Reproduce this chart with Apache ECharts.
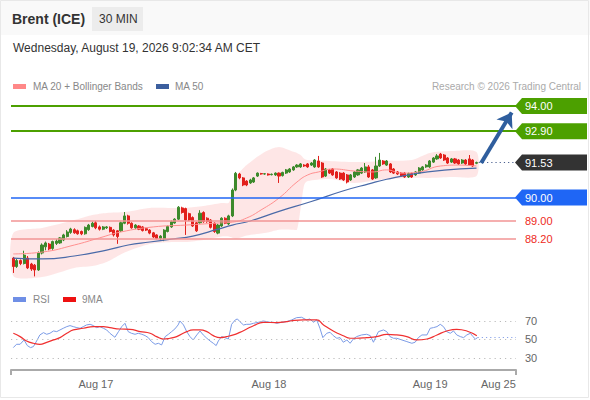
<!DOCTYPE html>
<html lang="en">
<head>
    <meta charset="UTF-8"/>
    <title>Brent (ICE)</title>
    <script src="https://cdn.jsdelivr.net/npm/echarts@6/dist/echarts.min.js"></script>
    <style>
        html, body { margin: 0; padding: 0; background: #fff; }
        #main { width: 590px; height: 400px; }
    </style>
</head>
<body>
<div id="main"></div>
<script type="text/javascript">
    // 30 min candles, one per slot
    var opens = [87.36, 86.99, 87.25, 87.12, 87.36, 87.10, 87.05, 86.84, 87.58, 87.85,
        87.97, 87.78, 88.00, 88.02, 88.15, 88.30, 88.48, 88.60, 88.55, 88.52,
        88.42, 88.60, 88.74, 88.90, 88.72, 88.62, 88.68, 88.70, 88.58, 88.55,
        88.55, 88.88, 89.20, 88.88, 88.68, 88.76, 88.72, 88.64, 88.58, 88.46,
        88.37, 88.22, 88.20, 88.52, 88.72, 88.89, 89.06, 89.55, 89.52, 89.30,
        89.13, 88.90, 88.90, 89.35, 89.10, 89.02, 88.88, 88.45, 88.76, 89.10,
        88.85, 89.20, 90.33, 91.03, 90.86, 90.72, 90.64, 90.68, 90.94, 91.05,
        91.03, 91.03, 91.00, 90.99, 91.07, 90.96, 91.07, 91.12, 91.21, 91.34,
        91.34, 91.42, 91.47, 91.42, 91.34, 91.60, 91.51, 90.94, 91.21, 91.25,
        91.12, 91.07, 91.07, 90.99, 90.77, 90.90, 90.99, 91.07, 91.12, 91.34,
        91.21, 90.86, 91.38, 91.60, 91.42, 91.47, 91.25, 91.12, 91.07, 91.07,
        90.90, 91.05, 90.99, 91.07, 91.21, 91.34, 91.34, 91.55, 91.69, 91.90,
        91.86, 91.73, 91.55, 91.69, 91.64, 91.51, 91.64, 91.69, 91.64, 91.50];
    var closes = [86.99, 87.25, 87.12, 87.49, 86.93, 86.88, 86.84, 87.58, 87.93, 88.02,
        87.76, 88.08, 88.10, 88.24, 88.37, 88.50, 88.63, 88.46, 88.42, 88.42,
        88.70, 88.80, 88.88, 88.68, 88.62, 88.72, 88.72, 88.52, 88.37, 88.30,
        88.90, 89.20, 88.88, 88.68, 88.80, 88.62, 88.56, 88.58, 88.45, 88.28,
        88.22, 88.32, 88.58, 88.74, 88.95, 89.06, 89.58, 89.35, 89.02, 89.02,
        88.76, 88.55, 89.32, 88.95, 88.95, 88.70, 88.52, 88.80, 89.10, 88.88,
        89.20, 90.33, 91.06, 90.86, 90.55, 90.55, 90.77, 90.86, 91.07, 91.03,
        91.04, 90.99, 91.02, 91.07, 90.94, 91.10, 91.21, 91.25, 91.34, 91.42,
        91.47, 91.38, 91.34, 91.51, 91.64, 91.34, 90.90, 91.25, 91.07, 90.99,
        90.86, 90.81, 90.77, 90.68, 90.99, 91.12, 91.21, 91.29, 91.34, 90.90,
        90.81, 91.38, 91.64, 91.47, 91.60, 91.12, 91.07, 91.03, 90.94, 90.90,
        91.05, 90.90, 91.12, 91.29, 91.34, 91.42, 91.60, 91.73, 91.82, 91.73,
        91.64, 91.51, 91.69, 91.51, 91.47, 91.64, 91.47, 91.42, 91.38, 91.53];
    var lows = [86.71, 86.93, 87.05, 87.08, 86.88, 86.80, 86.56, 86.80, 87.52, 87.70,
        87.70, 87.72, 87.93, 87.98, 88.10, 88.26, 88.42, 88.42, 88.38, 88.36,
        88.38, 88.55, 88.70, 88.62, 88.56, 88.58, 88.63, 88.48, 88.30, 87.98,
        88.50, 88.84, 88.82, 88.64, 88.62, 88.58, 88.52, 88.54, 88.40, 88.24,
        88.18, 88.15, 88.10, 88.48, 88.68, 88.86, 89.02, 89.30, 88.37, 88.98,
        88.72, 88.50, 88.86, 88.90, 88.90, 88.65, 88.46, 88.40, 88.72, 88.84,
        88.80, 89.15, 90.28, 90.80, 90.50, 90.50, 90.60, 90.64, 90.90, 91.00,
        91.00, 90.96, 90.97, 90.95, 90.64, 90.92, 91.03, 91.08, 91.17, 91.30,
        91.30, 91.34, 91.30, 91.38, 91.30, 91.30, 90.86, 90.90, 91.03, 90.95,
        90.82, 90.77, 90.73, 90.62, 90.73, 90.86, 90.95, 91.03, 91.08, 90.86,
        90.77, 90.82, 91.34, 91.43, 91.38, 91.08, 91.03, 90.99, 90.90, 90.86,
        90.86, 90.86, 90.95, 91.03, 91.17, 91.30, 91.30, 91.51, 91.65, 91.69,
        91.60, 91.47, 91.51, 91.47, 91.43, 91.47, 91.43, 91.38, 91.34, 91.46];
    var highs = [87.41, 87.32, 87.30, 87.68, 87.45, 87.15, 87.10, 87.65, 88.00, 88.08,
        88.02, 88.12, 88.18, 88.28, 88.42, 88.58, 88.68, 88.66, 88.60, 88.56,
        88.74, 88.85, 88.95, 88.98, 88.78, 88.76, 88.76, 88.74, 88.62, 88.58,
        88.95, 89.37, 89.25, 88.92, 88.84, 88.80, 88.76, 88.68, 88.62, 88.50,
        88.40, 88.36, 88.62, 88.78, 89.00, 89.10, 89.63, 89.60, 89.56, 89.34,
        89.18, 88.94, 89.45, 89.40, 89.14, 89.06, 88.92, 88.85, 89.14, 89.14,
        89.25, 90.40, 91.12, 91.08, 90.90, 90.76, 90.82, 90.90, 91.10, 91.08,
        91.07, 91.06, 91.05, 91.10, 91.10, 91.13, 91.25, 91.29, 91.38, 91.46,
        91.51, 91.46, 91.51, 91.55, 91.68, 91.82, 91.55, 91.29, 91.25, 91.29,
        91.16, 91.11, 91.11, 91.03, 91.03, 91.16, 91.25, 91.33, 91.51, 91.42,
        91.25, 91.78, 91.95, 91.64, 91.64, 91.51, 91.29, 91.16, 91.11, 91.11,
        91.09, 91.09, 91.16, 91.33, 91.38, 91.46, 91.64, 91.77, 91.90, 91.95,
        91.90, 91.77, 91.73, 91.73, 91.68, 91.68, 91.68, 91.86, 91.68, 91.57];

    // moving averages and bands, read at key candles
    var ma20Idx = [0, 8, 17, 24, 30, 39, 48, 57, 61, 65, 69, 74, 79, 82, 85, 89, 95, 100, 104, 108, 113, 119, 124, 129];
    var ma20Val = [87.54, 87.62, 87.93, 88.24, 88.50, 88.72, 88.80, 88.89, 88.93, 89.11, 89.46, 89.98, 90.68, 90.99,
        91.12, 91.25, 91.16, 91.12, 91.21, 91.07, 91.12, 91.38, 91.42, 91.38];
    var ma50Idx = [0, 8, 17, 26, 32, 38, 44, 50, 57, 61, 66, 74, 83, 92, 99, 104, 112, 120, 129];
    var ma50Val = [87.36, 87.32, 87.45, 87.71, 87.93, 88.06, 88.19, 88.32, 88.62, 88.80, 88.98, 89.40, 89.83,
        90.30, 90.60, 90.80, 91.05, 91.20, 91.29];
    var bandIdx = [0, 8, 17, 22, 26, 31, 38, 44, 48, 53, 58, 60, 61, 62, 65, 70, 74, 78, 79, 80, 81, 82, 88, 95, 104, 111, 116, 122, 129];
    var bandUp = [88.45, 88.67, 89.02, 89.24, 89.33, 89.37, 89.55, 89.55, 89.55, 89.63, 89.76, 89.78, 90.30, 90.90,
        91.42, 91.99, 92.21, 92.00, 91.95, 91.86, 91.70, 91.64, 91.60, 91.55, 91.60, 91.64, 91.95, 92.03, 91.99];
    var bandLow = [86.58, 86.53, 86.93, 87.01, 87.19, 87.60, 87.97, 88.06, 88.06, 88.15, 88.30, 88.30, 88.25, 88.20,
        88.35, 88.45, 88.60, 88.60, 88.60, 89.50, 90.55, 90.72, 90.81, 90.64, 90.81, 90.86, 90.86, 90.90, 90.94];

    // RSI panel
    var rsiIdx = [0, 0.9, 1.9, 3.0, 3.9, 4.8, 5.6, 6.5, 7.4, 8.4, 9.3, 10.2, 11.2, 12.1, 13.0, 13.9, 14.9, 15.8, 16.7, 17.7,
        18.6, 19.5, 20.4, 21.4, 22.3, 23.2, 24.1, 25.1, 26.0, 26.9, 28.3, 29.3, 30.2, 31.1, 32.0, 32.9, 33.9, 34.8, 35.8,
        36.7, 37.6, 38.5, 39.5, 40.4, 41.3, 42.3, 43.2, 44.1, 45.0, 45.9, 46.4, 47.4, 48.3, 49.2, 50.1, 51.1, 52.0, 52.9,
        53.9, 54.8, 55.7, 56.5, 57.1, 58.0, 58.9, 59.9, 60.8, 61.8, 62.4, 63.1, 64.1, 65.0, 65.9, 66.9, 68.3, 69.6, 70.6,
        71.5, 72.4, 73.4, 74.8, 76.1, 77.5, 78.9, 80.3, 81.7, 82.6, 83.6, 84.5, 85.4, 86.2, 87.3, 88.2, 89.1, 90.1, 91.0,
        91.9, 92.9, 93.8, 94.7, 95.6, 97.0, 98.4, 99.4, 100.3, 101.0, 101.7, 103.1, 104.0, 104.9, 105.9, 106.8, 108.2,
        109.6, 111.0, 111.9, 112.8, 113.8, 115.2, 116.1, 117.0, 118.0, 118.9, 119.8, 120.7, 121.7, 122.6, 123.5, 124.5,
        125.4, 126.3, 127.3, 128.0, 128.7, 129.3];
    var rsiVal = [41.2, 44.8, 44.8, 49.5, 43.4, 41.2, 42.3, 48.4, 54.9, 57.4, 55.6, 56.7, 59.2, 58.5, 60.3, 62.1, 63.9,
        65.0, 63.9, 62.8, 62.1, 63.9, 65.7, 66.4, 65.0, 62.8, 63.9, 62.1, 60.3, 56.7, 52.4, 58.5, 63.9, 67.5, 58.5, 56.7,
        55.6, 56.7, 55.6, 54.2, 52.0, 47.7, 44.8, 45.9, 44.1, 53.1, 55.6, 58.5, 61.4, 65.7, 70.0, 65.7, 58.5, 53.1, 49.5,
        54.9, 59.2, 54.9, 51.3, 48.4, 45.9, 43.4, 48.4, 53.1, 52.0, 50.5, 66.4, 71.1, 72.2, 69.3, 65.7, 66.4, 66.4, 67.5,
        68.6, 70.0, 69.3, 68.6, 68.6, 67.5, 68.6, 69.3, 71.1, 73.6, 74.0, 71.1, 72.2, 68.6, 71.1, 62.1, 52.0, 56.7, 57.8,
        54.2, 51.3, 52.0, 47.0, 49.5, 45.9, 50.5, 53.1, 54.9, 55.6, 54.2, 47.0, 53.1, 58.5, 60.3, 58.5, 53.1, 51.3, 51.3,
        49.5, 47.7, 45.9, 47.0, 52.0, 54.9, 54.9, 62.1, 62.8, 63.9, 66.4, 63.9, 58.5, 56.7, 59.2, 54.9, 53.1, 52.0, 54.9,
        56.7, 53.1, 50.5, 52.0];
    var ma9Idx = [0, 1.9, 3.7, 5.6, 7.4, 9.3, 11.2, 13.0, 14.9, 16.7, 19.5, 22.3, 25.1, 26.9, 29.7, 32.5, 35.3, 38.1,
        39.9, 41.8, 43.6, 45.5, 48.3, 50.1, 52.0, 53.9, 55.7, 57.6, 59.4, 61.3, 63.1, 65.0, 66.9, 69.6, 73.4, 76.1, 77.1,
        80.8, 84.5, 86.4, 89.1, 91.9, 93.8, 95.6, 98.4, 101.2, 104.0, 106.8, 109.6, 112.4, 115.2, 118.0, 120.7, 123.5,
        126.3, 129.1];
    var ma9Val = [56.7, 53.1, 48.4, 45.9, 44.8, 46.9, 49.5, 52.0, 56.7, 60.3, 62.1, 63.9, 63.9, 62.8, 61.3, 61.0, 58.5,
        56.7, 53.1, 50.5, 51.3, 53.1, 58.5, 60.3, 60.3, 58.5, 54.2, 52.0, 53.1, 54.9, 57.7, 61.3, 64.9, 68.5, 68.2, 69.3,
        70.0, 71.1, 71.1, 65.7, 59.2, 54.1, 51.3, 51.3, 52.0, 53.1, 55.6, 54.9, 53.1, 49.5, 50.5, 54.9, 59.2, 61.0, 59.2,
        54.1];

    // price levels on the right
    var levelVals = [94.00, 92.90, 91.53, 90.00, 89.00, 88.20];
    var rsiLevels = [30, 50, 70];
    var tickPos = [23, 71.2, 116.1, 135.1];
    var tickLabels = ['Aug 17', 'Aug 18', 'Aug 19', 'Aug 25'];
    var arrowFrom = [130.3, 91.51];
    var arrowTo = [138.8, 93.72];

    var X_MIN = -0.64, X_MAX = 140;
    var FONT = 'Arial, "Liberation Sans", Helvetica, sans-serif';
    var GREEN = '#4ca000', BLUE = '#1f66f5', LRED = '#f29494';
    var tagStyles = [
        {bg: GREEN, text: '#fff'}, {bg: GREEN, text: '#fff'}, {bg: '#333333', text: '#fff'},
        {bg: BLUE, text: '#fff'}, {bg: null, text: '#ee2a22'}, {bg: null, text: '#ee2a22'}
    ];

    function pairs(idx, val) {
        var out = [];
        for (var k = 0; k < idx.length; k++) out.push([idx[k], val[k]]);
        return out;
    }

    var candles = [];
    for (var i = 0; i < opens.length; i++) {
        candles.push([i, opens[i], closes[i], lows[i], highs[i]]);
    }
    var last = opens.length - 1;

    var myChart = echarts.init(document.getElementById('main'), null, {renderer: 'svg'});
    var option = {
        animation: false,
        textStyle: {fontFamily: FONT},
        grid: [
            {left: 11, width: 505, top: 94.55, height: 194.65},
            {left: 11, width: 505, top: 307.1, height: 62.9}
        ],
        xAxis: [
            {type: 'value', gridIndex: 0, min: X_MIN, max: X_MAX, show: false},
            {
                type: 'value', gridIndex: 1, min: X_MIN, max: X_MAX,
                splitLine: {show: false},
                axisLine: {lineStyle: {color: '#aaaaaa', width: 2}},
                axisTick: {customValues: [X_MIN, X_MAX], length: 5, lineStyle: {color: '#aaaaaa', width: 2}},
                axisLabel: {
                    customValues: tickPos, color: '#666', fontSize: 11, margin: 8,
                    formatter: function (v) {
                        var k = tickPos.indexOf(v);
                        return k >= 0 ? tickLabels[k] : '';
                    }
                }
            }
        ],
        yAxis: [
            {type: 'value', gridIndex: 0, min: 86, max: 94.5, show: false},
            {
                type: 'value', gridIndex: 1, min: 17, max: 85, position: 'right',
                axisLine: {show: false}, axisTick: {show: false}, splitLine: {show: false},
                axisLabel: {customValues: rsiLevels, color: '#666', fontSize: 11, margin: 9}
            }
        ],
        graphic: [
            {type: 'rect', silent: true, shape: {x: 0, y: 0, width: 590, height: 35}, style: {fill: '#f9f9f9'}},
            {type: 'rect', silent: true, shape: {x: 0.5, y: 0.5, width: 588, height: 397}, style: {fill: 'none', stroke: '#e8e8e8'}},
            {type: 'text', x: 12, y: 19, style: {text: 'Brent (ICE)', font: 'bold 14px ' + FONT, fill: '#333', verticalAlign: 'middle'}},
            {type: 'rect', shape: {x: 92, y: 7, width: 51, height: 24}, style: {fill: '#ececec'}},
            {type: 'text', x: 99, y: 19, style: {text: '30 MIN', font: '12px ' + FONT, fill: '#333', verticalAlign: 'middle'}},
            {type: 'text', x: 13, y: 48, style: {text: 'Wednesday, August 19, 2026 9:02:34 AM CET', font: '12px ' + FONT, fill: '#333', verticalAlign: 'middle'}},
            {type: 'rect', shape: {x: 13, y: 84, width: 13, height: 5}, style: {fill: '#ff8888'}},
            {type: 'text', x: 33, y: 86.5, style: {text: 'MA 20 + Bollinger Bands', font: '10px ' + FONT, fill: '#888', verticalAlign: 'middle'}},
            {type: 'rect', shape: {x: 156, y: 84, width: 13, height: 5}, style: {fill: '#3c5f9e'}},
            {type: 'text', x: 175, y: 86.5, style: {text: 'MA 50', font: '10px ' + FONT, fill: '#888', verticalAlign: 'middle'}},
            {type: 'text', x: 581, y: 86.5, style: {text: 'Research \u00a9 2026 Trading Central', font: '10px ' + FONT, fill: '#aaa', align: 'right', verticalAlign: 'middle'}},
            {type: 'rect', shape: {x: 13, y: 297, width: 13, height: 5}, style: {fill: '#6f8fe6'}},
            {type: 'text', x: 33, y: 299.5, style: {text: 'RSI', font: '10px ' + FONT, fill: '#888', verticalAlign: 'middle'}},
            {type: 'rect', shape: {x: 63, y: 297, width: 13, height: 5}, style: {fill: '#ee1111'}},
            {type: 'text', x: 82, y: 299.5, style: {text: '9MA', font: '10px ' + FONT, fill: '#888', verticalAlign: 'middle'}}
        ],
        series: [
            {
                name: 'Bollinger', type: 'custom', xAxisIndex: 0, yAxisIndex: 0, silent: true, z: 1,
                data: pairs(bandIdx, bandUp),
                renderItem: function (params, api) {
                    if (params.dataIndex !== 0) return;
                    var pts = [], k;
                    for (k = 0; k < bandIdx.length; k++) pts.push(api.coord([bandIdx[k], bandUp[k]]));
                    for (k = bandIdx.length - 1; k >= 0; k--) pts.push(api.coord([bandIdx[k], bandLow[k]]));
                    return {type: 'polygon', shape: {points: pts, smooth: 0.25}, style: {fill: 'rgba(250,140,140,0.22)'}};
                }
            },
            {
                name: 'Brent', type: 'candlestick', xAxisIndex: 0, yAxisIndex: 0, z: 3,
                data: candles,
                encode: {x: 0, y: [1, 2, 3, 4]},
                barWidth: 2.6,
                itemStyle: {color: '#3d8a2c', color0: '#e2201c', borderColor: '#3d8a2c', borderColor0: '#e2201c', borderWidth: 1},
                markLine: {
                    silent: true, symbol: ['none', 'none'], label: {show: false},
                    data: [
                        {yAxis: levelVals[0], lineStyle: {color: GREEN, width: 2, type: 'solid'}},
                        {yAxis: levelVals[1], lineStyle: {color: GREEN, width: 2, type: 'solid'}},
                        {yAxis: levelVals[3], lineStyle: {color: BLUE, width: 1.5, type: 'solid'}},
                        {yAxis: levelVals[4], lineStyle: {color: LRED, width: 1.5, type: 'solid'}},
                        {yAxis: levelVals[5], lineStyle: {color: LRED, width: 1.5, type: 'solid'}},
                        [{coord: [last + 0.6, levelVals[2]], lineStyle: {color: '#4a5f8f', width: 1.2, type: [1.2, 3]}},
                            {coord: [X_MAX, levelVals[2]]}],
                        [{coord: arrowFrom, lineStyle: {color: '#2f5e9e', width: 4, type: 'solid'}},
                            {coord: arrowTo, symbol: 'arrow', symbolSize: [14, 14]}]
                    ]
                }
            },
            {
                name: 'MA 20', type: 'line', xAxisIndex: 0, yAxisIndex: 0, z: 4, silent: true,
                data: pairs(ma20Idx, ma20Val), smooth: true, showSymbol: false,
                lineStyle: {color: '#ff8f8f', width: 1}
            },
            {
                name: 'MA 50', type: 'line', xAxisIndex: 0, yAxisIndex: 0, z: 4, silent: true,
                data: pairs(ma50Idx, ma50Val), smooth: true, showSymbol: false,
                lineStyle: {color: '#4a6aa8', width: 1.2}
            },
            {
                name: 'Levels', type: 'custom', xAxisIndex: 0, yAxisIndex: 0, clip: false, silent: true, z: 6,
                data: levelVals.map(function (v) { return [X_MAX, v]; }),
                renderItem: function (params, api) {
                    var k = params.dataIndex;
                    var p = api.coord([api.value(0), api.value(1)]);
                    var x = p[0], y = p[1];
                    var st = tagStyles[k];
                    var txt = {
                        type: 'text', x: x + 9, y: y,
                        style: {text: levelVals[k].toFixed(2), fill: st.text, font: '11px ' + FONT, verticalAlign: 'middle', align: 'left'}
                    };
                    if (!st.bg) return txt;
                    return {
                        type: 'group', children: [
                            {type: 'polygon', shape: {points: [[x - 1, y], [x + 6, y - 8], [x + 71, y - 8], [x + 71, y + 8], [x + 6, y + 8]]}, style: {fill: st.bg}},
                            txt
                        ]
                    };
                }
            },
            {
                name: 'RSI', type: 'line', xAxisIndex: 1, yAxisIndex: 1, z: 4, silent: true,
                data: pairs(rsiIdx, rsiVal), showSymbol: false,
                lineStyle: {color: '#7b9be6', width: 1},
                markLine: {
                    silent: true, symbol: ['none', 'none'], label: {show: false},
                    lineStyle: {color: '#bbbbbb', width: 1, type: [1.2, 4]},
                    data: [
                        {yAxis: rsiLevels[0]}, {yAxis: rsiLevels[1]}, {yAxis: rsiLevels[2]},
                        [{coord: [rsiIdx[rsiIdx.length - 1], rsiVal[rsiVal.length - 1]], lineStyle: {color: '#8aa4ea', width: 1.2, type: [1.2, 3]}},
                            {coord: [X_MAX, rsiVal[rsiVal.length - 1]]}]
                    ]
                }
            },
            {
                name: '9MA', type: 'line', xAxisIndex: 1, yAxisIndex: 1, z: 5, silent: true,
                data: pairs(ma9Idx, ma9Val), smooth: true, showSymbol: false,
                lineStyle: {color: '#f03030', width: 1.2}
            }
        ]
    };
    myChart.setOption(option);
</script>
</body>
</html>
